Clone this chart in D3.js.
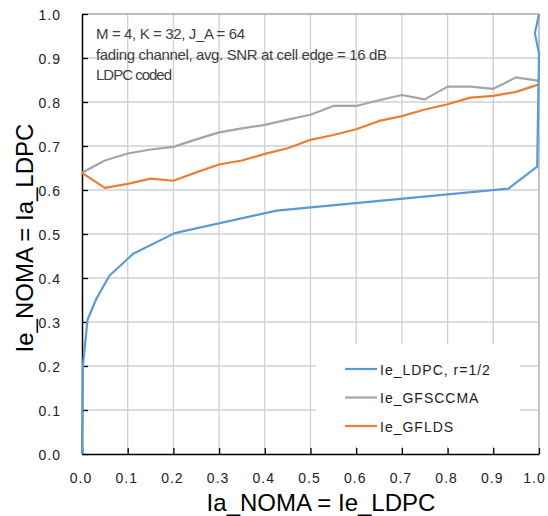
<!DOCTYPE html>
<html><head><meta charset="utf-8">
<script src="https://d3js.org/d3.v7.min.js"></script>
<style>
body{margin:0;background:#fff;}
svg{display:block;}
</style></head>
<body>
<svg id="chart" width="548" height="516"></svg>
<script>
// ---- data ----
const xTicks = [0,0.1,0.2,0.3,0.4,0.5,0.6,0.7,0.8,0.9,1.0];
const yTicks = [0,0.1,0.2,0.3,0.4,0.5,0.6,0.7,0.8,0.9,1.0];

// Ie_LDPC curve (plotted with Ie_LDPC on x, Ia_LDPC on y)
const ldpcX = [0, 0.002, 0.012, 0.032, 0.06, 0.112, 0.203, 0.426, 0.933, 0.996, 1.0, 0.991, 1.0];
const ldpcY = [0, 0.2, 0.305, 0.354, 0.405, 0.455, 0.502, 0.553, 0.603, 0.653, 0.91, 0.956, 1.0];

const iaNoma = [0,0.05,0.1,0.15,0.2,0.25,0.3,0.35,0.4,0.45,0.5,0.55,0.6,0.65,0.7,0.75,0.8,0.85,0.9,0.95,1.0];
const gfsccma = [0.639,0.667,0.683,0.692,0.698,0.715,0.731,0.740,0.748,0.760,0.771,0.791,0.791,0.804,0.816,0.806,0.835,0.835,0.830,0.856,0.848];
const gflds   = [0.639,0.605,0.614,0.626,0.621,0.640,0.658,0.667,0.682,0.695,0.714,0.725,0.738,0.757,0.768,0.783,0.795,0.810,0.814,0.823,0.840];

const seriesNames = ["Ie_LDPC, r=1/2", "Ie_GFSCCMA", "Ie_GFLDS"];
const seriesColors = ["#5B9BD5", "#A5A5A5", "#ED7D31"];
const annotation = ["M = 4, K = 32, J_A = 64", "fading channel, avg. SNR at cell edge = 16 dB", "LDPC coded"];
const annotationWidths = [149, 291, 76];
const xTitle = "Ia_NOMA = Ie_LDPC";
const yTitle = "Ie_NOMA = Ia_LDPC";

// ---- layout ----
const svg = d3.select("#chart");
const L = 82, R = 539, T = 14, B = 454;
const x = d3.scaleLinear().domain([0,1]).range([L,R]);
const y = d3.scaleLinear().domain([0,1]).range([B,T]);
const font = "'Liberation Sans', Arial, sans-serif";

// gridlines
const grid = svg.append("g");
grid.selectAll("line.v").data(xTicks.slice(1)).join("line")
  .attr("x1", d=>x(d)).attr("x2", d=>x(d)).attr("y1", T).attr("y2", B)
  .attr("stroke", d=> d===1 ? "#A6A6A6" : "#D0D0D0").attr("stroke-width", 1.3);
grid.selectAll("line.h").data(yTicks.slice(1)).join("line")
  .attr("y1", d=>y(d)).attr("y2", d=>y(d)).attr("x1", L).attr("x2", R)
  .attr("stroke", d=> d===1 ? "#A6A6A6" : "#D0D0D0").attr("stroke-width", 1.3);

// axes
const xAxis = d3.axisBottom(x).tickValues(xTicks).tickFormat(d3.format(".1f")).tickSizeInner(-6).tickSizeOuter(0).tickPadding(19);
const yAxis = d3.axisLeft(y).tickValues(yTicks).tickFormat(d3.format(".1f")).tickSizeInner(-6).tickSizeOuter(0).tickPadding(21);

const gx = svg.append("g").attr("transform", `translate(0,${B})`).call(xAxis);
const gy = svg.append("g").attr("transform", `translate(${L},0)`).call(yAxis);
[gx, gy].forEach(g => {
  g.select(".domain").attr("stroke", "#000").attr("stroke-width", 1.5);
  g.selectAll(".tick line").attr("stroke", "#000").attr("stroke-width", 1.3);
  g.selectAll(".tick text").attr("font-family", font).attr("font-size", 14)
    .attr("letter-spacing", 1).attr("fill", "#222");
});
gx.selectAll(".tick text").attr("dy", "0.71em").attr("dx", d => d === 1 ? -5 : -1.5);
gy.selectAll(".tick text").attr("dy", "0.36em");

// lines
const line = d3.line().x(d=>x(d[0])).y(d=>y(d[1]));
const plot = svg.append("g");
const dataSets = [
  d3.zip(ldpcX, ldpcY),
  d3.zip(iaNoma, gfsccma),
  d3.zip(iaNoma, gflds)
];
[1,2,0].forEach(i => {
  plot.append("path").datum(dataSets[i]).attr("d", line)
    .attr("fill", "none").attr("stroke", seriesColors[i]).attr("stroke-width", 2.2)
    .attr("stroke-linejoin", "round");
});

// annotation
const ann = svg.append("g");
annotation.forEach((t,i) => {
  ann.append("text").attr("x", 96).attr("y", 39 + i*20.5).text(t)
    .attr("font-family", font)
    .attr("font-size", 15).attr("fill", "#404040")
    .attr("textLength", annotationWidths[i]).attr("lengthAdjust", "spacing");
});

// legend
const lg = svg.append("g");
lg.append("rect").attr("x", 316).attr("y", 344).attr("width", 204).attr("height", 102).attr("fill", "#fff");
seriesNames.forEach((n,i) => {
  const yy = 369 + i*28.5;
  lg.append("line").attr("x1", 345).attr("x2", 377).attr("y1", yy).attr("y2", yy)
    .attr("stroke", seriesColors[i]).attr("stroke-width", 2.2);
  lg.append("text").attr("x", 380).attr("y", yy + 5.5).text(n)
    .attr("font-family", font).attr("font-size", 14).attr("letter-spacing", 1).attr("fill", "#222");
});

// axis titles
svg.append("text").attr("x", 321).attr("y", 511).attr("text-anchor", "middle")
  .attr("font-family", font).attr("font-size", 24).attr("fill", "#000").text(xTitle);
svg.append("text").attr("transform", `translate(33,238) rotate(-90)`).attr("text-anchor", "middle")
  .attr("font-family", font).attr("font-size", 24).attr("fill", "#000").text(yTitle);
</script>
</body></html>
